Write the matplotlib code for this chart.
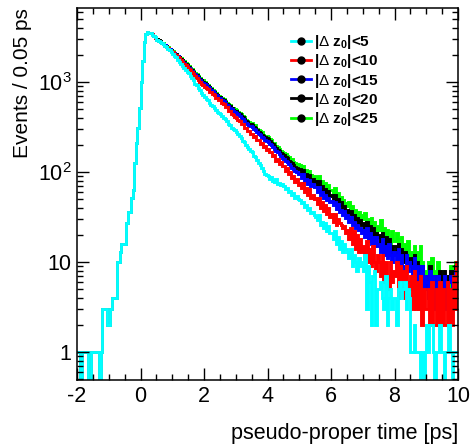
import matplotlib
matplotlib.use("Agg")
from matplotlib import pyplot as plt
from matplotlib.lines import Line2D
from matplotlib.ticker import LogLocator, FuncFormatter, MultipleLocator
import numpy as np

plt.rcParams["font.family"] = ["Liberation Sans", "DejaVu Sans"]
plt.rcParams["mathtext.fontset"] = "custom"
plt.rcParams["mathtext.rm"] = "Liberation Sans"
plt.rcParams["mathtext.it"] = "Liberation Sans:italic"
plt.rcParams["mathtext.bf"] = "Liberation Sans:bold"
plt.rcParams["axes.unicode_minus"] = False

# 240 bins of 0.05 ps from -2 to 10 ps
bin_edges = np.linspace(-2, 10, 241)

# bins 0..45 (t = -2 .. 0.3 ps): rising edge, common to all cuts
rise = [1, 1, 0, 1, 1, 1, 1, 0, 0, 1, 1, 1, 1, 1, 0, 1,
        3, 3, 3, 2, 2, 3, 4, 4, 4, 10, 10, 13, 16, 16, 16, 27, 36, 36, 51, 63,
        126, 210, 310, 520, 1000, 1700, 2800, 3450, 3550, 3530]

# bins 46..239 (t = 0.3 .. 10 ps), one list per |dz0| cut
tail_dz5 = [3460, 3370, 3260, 3130,
            2960, 2880, 2800, 2700, 2620, 2520, 2440, 2330, 2250, 2150,
            2070, 1960, 1880, 1760, 1690, 1580, 1520, 1420, 1360, 1290,
            1250, 1170, 1100, 1040, 960, 920, 850, 810, 750, 720,
            690, 650, 630, 590, 560, 540, 510, 490, 470, 455,
            445, 420, 400, 385, 365, 345, 330, 310, 300, 290,
            280, 262, 252, 240, 222, 213, 198, 190, 180, 170,
            165, 152, 148, 135, 125, 120, 110, 104, 96, 92,
            91, 84, 88, 80, 78, 83, 74, 76, 71, 74,
            70, 64, 67, 60, 62, 56, 58, 52, 54, 50,
            49, 45, 47, 41, 43, 38, 40, 35, 36, 33,
            32, 29, 33, 26, 28, 24, 27, 22, 25, 21,
            21, 18, 22, 16, 19, 14, 17, 13, 16, 14,
            13, 11, 14, 9, 12, 10, 8, 11, 9, 10,
            8, 12, 3, 9, 6, 2, 7, 8, 2, 5,
            5, 6, 4, 3, 7, 2, 4, 5, 3, 4,
            4, 2, 5, 6, 4, 5, 6, 3, 5, 4,
            1, 1, 2, 1, 1, 1, 0, 1, 0, 1,
            2, 1, 2, 2, 1, 0, 1, 1, 2, 1,
            1, 0, 1, 1, 2, 1, 0, 1, 1, 1]

tail_dz10 = [3470, 3380, 3250, 3110,
             2950, 2880, 2790, 2700, 2620, 2530, 2460, 2360, 2290, 2200,
             2130, 2060, 1980, 1900, 1830, 1740, 1680, 1590, 1530, 1460,
             1410, 1350, 1290, 1230, 1170, 1110, 1060, 1000, 960, 920,
             890, 850, 840, 780, 770, 730, 710, 670, 665, 630,
             630, 590, 575, 530, 525, 480, 475, 440, 435, 405,
             400, 380, 365, 340, 340, 310, 310, 285, 285, 265,
             268, 245, 250, 228, 226, 205, 210, 190, 194, 176,
             180, 166, 168, 150, 154, 134, 140, 124, 128, 116,
             118, 104, 110, 94, 100, 86, 90, 78, 84, 72,
             76, 66, 75, 60, 66, 56, 64, 52, 56, 50,
             52, 44, 52, 40, 47, 37, 43, 34, 40, 32,
             34, 28, 34, 26, 30, 27, 26, 24, 25, 21,
             23, 18, 24, 16, 22, 14, 20, 13, 18, 13,
             15, 11, 17, 10, 14, 9, 15, 10, 8, 12,
             10, 7, 12, 6, 10, 7, 5, 10, 6, 8,
             7, 10, 4, 9, 5, 8, 4, 9, 6, 5,
             7, 3, 8, 3, 6, 3, 7, 2, 5, 3,
             3, 5, 2, 6, 2, 2, 5, 2, 6, 2,
             5, 2, 2, 6, 2, 5, 2, 7, 3, 10]

tail_dz15 = [3475, 3390, 3255, 3115,
             2965, 2890, 2810, 2720, 2640, 2550, 2480, 2380, 2310, 2230,
             2160, 2090, 2010, 1930, 1860, 1770, 1710, 1620, 1560, 1500,
             1445, 1390, 1340, 1270, 1230, 1160, 1110, 1060, 1010, 980,
             955, 920, 880, 850, 810, 790, 750, 725, 700, 670,
             660, 635, 610, 585, 560, 540, 515, 500, 475, 462,
             455, 440, 420, 400, 388, 372, 355, 345, 328, 322,
             315, 300, 292, 275, 268, 255, 248, 236, 228, 222,
             218, 205, 200, 190, 181, 172, 165, 158, 150, 144,
             140, 134, 130, 122, 118, 112, 108, 102, 100, 96,
             95, 86, 94, 80, 84, 74, 82, 70, 73, 68,
             69, 60, 69, 56, 60, 52, 56, 49, 52, 46,
             48, 43, 46, 39, 44, 36, 38, 33, 37, 31,
             33, 28, 32, 26, 28, 24, 26, 23, 24, 21,
             23, 19, 24, 17, 21, 16, 19, 15, 19, 15,
             16, 13, 18, 12, 15, 11, 16, 12, 10, 13,
             12, 9, 14, 8, 12, 9, 7, 12, 8, 10,
             9, 6, 11, 5, 9, 6, 4, 9, 5, 7,
             6, 4, 8, 3, 7, 4, 3, 7, 4, 4,
             5, 7, 3, 3, 6, 7, 3, 5, 8, 6]

tail_dz20 = [3478, 3392, 3258, 3118,
             2975, 2900, 2822, 2730, 2660, 2565, 2495, 2400, 2330, 2250,
             2180, 2100, 2040, 1940, 1890, 1800, 1740, 1660, 1600, 1530,
             1465, 1410, 1360, 1300, 1240, 1190, 1130, 1090, 1040, 1010,
             975, 940, 905, 870, 835, 800, 770, 740, 710, 690,
             675, 650, 625, 600, 575, 555, 535, 510, 495, 478,
             475, 455, 440, 420, 405, 390, 372, 360, 345, 338,
             330, 318, 305, 292, 282, 272, 260, 250, 243, 236,
             232, 222, 212, 203, 194, 186, 176, 170, 162, 158,
             154, 146, 142, 134, 130, 125, 119, 115, 110, 108,
             107, 97, 106, 90, 96, 86, 92, 80, 84, 78,
             79, 71, 79, 64, 70, 61, 65, 57, 61, 54,
             56, 49, 55, 45, 50, 43, 46, 39, 42, 37,
             38, 34, 37, 31, 33, 29, 31, 27, 29, 26,
             27, 23, 28, 21, 25, 19, 24, 19, 21, 19,
             20, 16, 21, 15, 19, 14, 18, 15, 13, 15,
             15, 12, 16, 11, 14, 10, 13, 12, 9, 11,
             11, 8, 12, 7, 10, 6, 9, 9, 5, 7,
             7, 5, 9, 4, 7, 7, 3, 6, 8, 4,
             6, 8, 4, 3, 7, 8, 4, 6, 9, 6]

tail_dz25 = [3480, 3400, 3260, 3120,
             2990, 2910, 2840, 2720, 2690, 2570, 2530, 2420, 2350, 2270,
             2200, 2110, 2070, 1950, 1920, 1840, 1770, 1700, 1630, 1570,
             1490, 1440, 1390, 1340, 1250, 1220, 1160, 1120, 1060, 1040,
             1000, 960, 935, 880, 860, 820, 790, 760, 720, 705,
             690, 660, 650, 610, 590, 570, 560, 520, 515, 500,
             490, 470, 455, 440, 415, 410, 380, 372, 360, 352,
             347, 335, 330, 300, 295, 283, 275, 260, 252, 250,
             245, 230, 225, 210, 212, 195, 190, 182, 170, 168,
             164, 160, 150, 148, 138, 140, 128, 126, 122, 123,
             120, 108, 118, 100, 106, 95, 102, 92, 88, 90,
             89, 80, 90, 74, 80, 70, 76, 64, 72, 63,
             63, 56, 66, 51, 59, 48, 53, 49, 44, 45,
             42, 46, 37, 42, 33, 38, 31, 36, 29, 33,
             30, 35, 25, 30, 24, 31, 22, 28, 21, 25,
             23, 29, 19, 24, 17, 23, 18, 16, 22, 17,
             17, 21, 13, 18, 19, 12, 16, 12, 17, 12,
             13, 10, 15, 8, 13, 3, 15, 10, 6, 8,
             5, 10, 6, 11, 8, 4, 7, 10, 5, 6,
             8, 4, 3, 7, 5, 9, 6, 4, 10, 8]

labels = [r"|$\Delta$ z$_\mathbf{0}$|<5", r"|$\Delta$ z$_\mathbf{0}$|<10",
          r"|$\Delta$ z$_\mathbf{0}$|<15", r"|$\Delta$ z$_\mathbf{0}$|<20",
          r"|$\Delta$ z$_\mathbf{0}$|<25"]
colors = ["#00ffff", "#ff0000", "#0000ff", "#000000", "#00ff00"]
tails = [tail_dz5, tail_dz10, tail_dz15, tail_dz20, tail_dz25]

fig = plt.figure(figsize=(4.70, 4.46), dpi=100)
fig.subplots_adjust(left=77/470, right=458/470, bottom=1-380/446, top=1-8/446)
ax = fig.gca()
ax.set_yscale("log")

# draw widest cut first so the tight cut ends up on top
for tail, col in reversed(list(zip(tails, colors))):
    ax.stairs(rise + tail, bin_edges, color=col, lw=2.1, baseline=None)

ax.set_xlim(-2, 10)
ax.set_ylim(0.49, 6640)
ax.xaxis.set_major_locator(MultipleLocator(2))
ax.xaxis.set_minor_locator(MultipleLocator(0.5))
ax.yaxis.set_major_locator(LogLocator(base=10, numticks=10))
ax.yaxis.set_minor_locator(LogLocator(base=10, subs=np.arange(2, 10), numticks=20))

def ylab(v, pos):
    if v < 50:
        return f"{v:g}"
    return r"$10^{%d}$" % round(np.log10(v))

ax.yaxis.set_major_formatter(FuncFormatter(ylab))
ax.tick_params(which="both", direction="in", top=True, right=True, labelsize=15.5, width=1.0)
ax.tick_params(which="major", length=8.5)
ax.tick_params(which="minor", length=4.3)
ax.tick_params(axis="x", pad=4)
ax.tick_params(axis="y", pad=4)
for s in ax.spines.values():
    s.set_linewidth(1.1)

ax.set_xlabel("pseudo-proper time [ps]", loc="right", fontsize=15.5, labelpad=12)
ax.set_ylabel("Events / 0.05 ps", loc="top", fontsize=15, labelpad=4)

handles = [Line2D([], [], color=c, lw=2, marker="o", markersize=5,
                  markerfacecolor="k", markeredgecolor="k") for c in colors]
ax.legend(handles, labels, loc="upper left", bbox_to_anchor=(0.541, 0.953),
          frameon=False, prop={"weight": "bold", "size": 11},
          handlelength=1.3, handletextpad=0.25, labelspacing=0.08, borderpad=0)

plt.savefig("out.png", dpi=100)
